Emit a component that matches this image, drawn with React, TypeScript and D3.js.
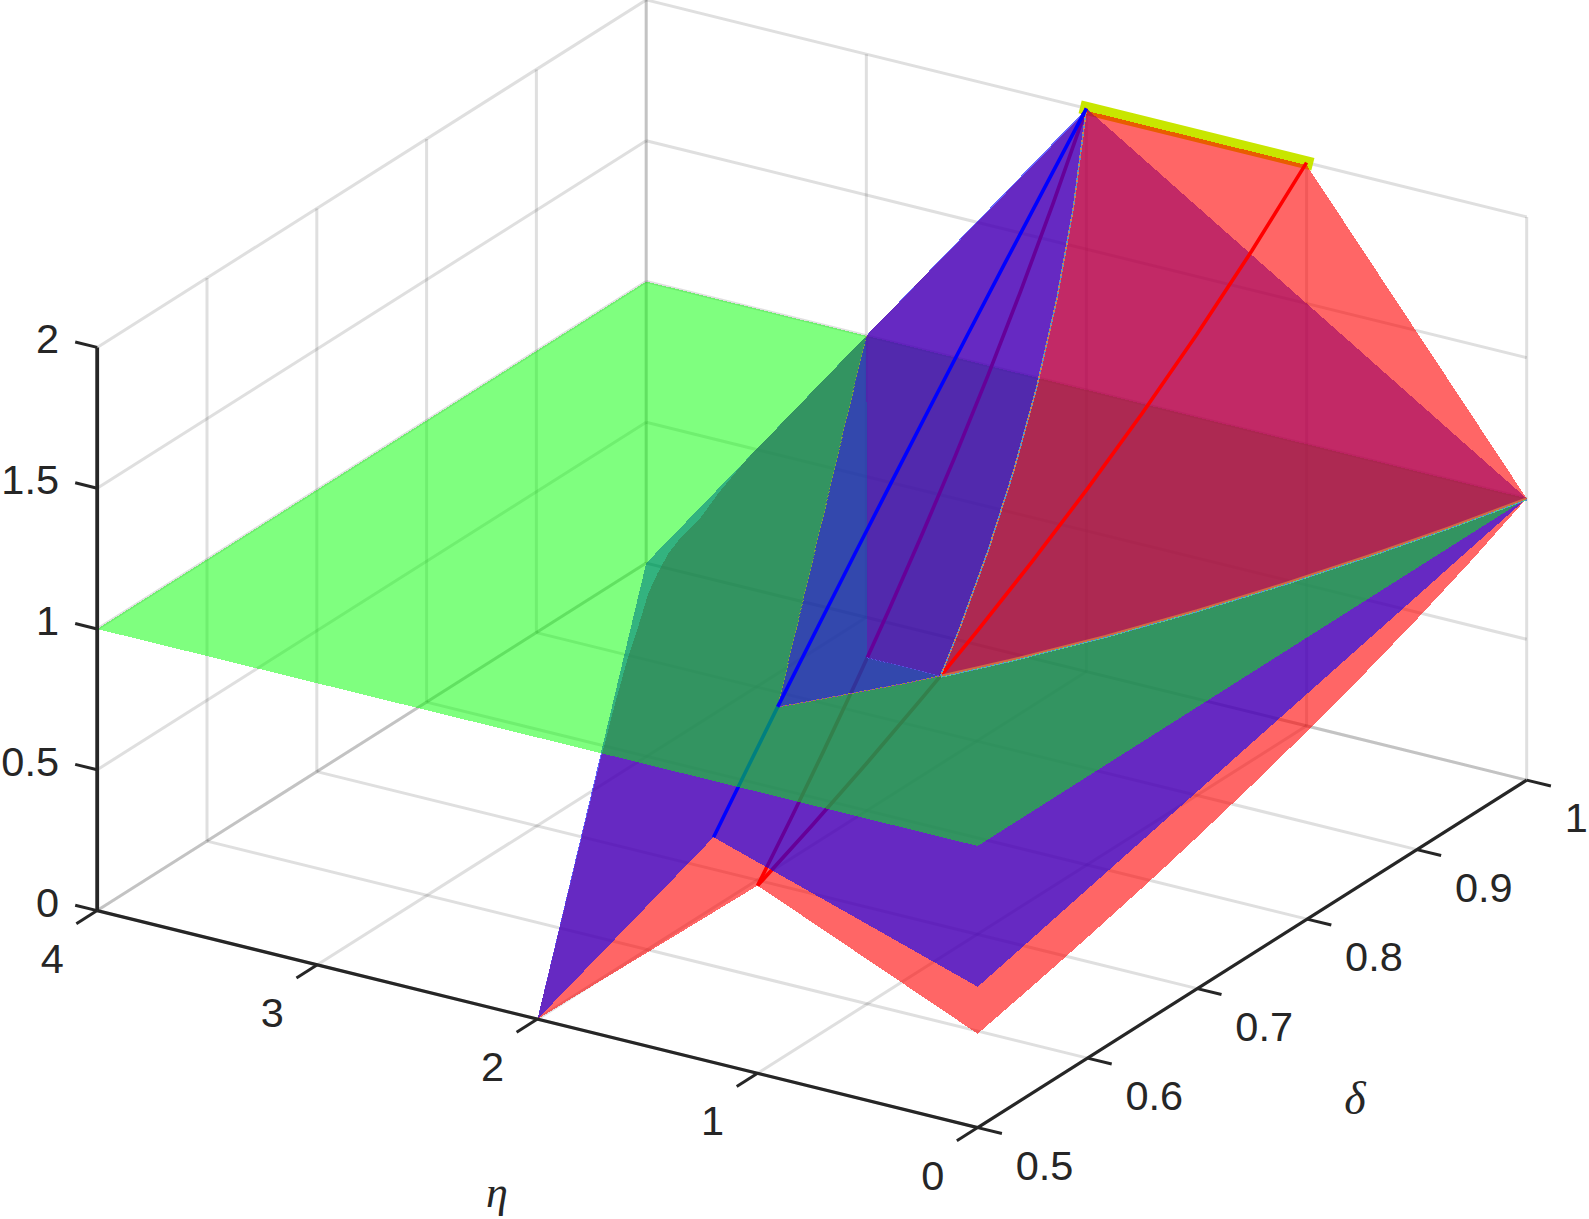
import React from "react";
import * as d3 from "d3";

const etaTicks = [0, 1, 2, 3, 4];
const deltaTicks = [0.5, 0.6, 0.7, 0.8, 0.9, 1];
const deltaTickLabels = ["0.5", "0.6", "0.7", "0.8", "0.9", "1"];
const zTicks = [0, 0.5, 1, 1.5, 2];
const zTickLabels = ["0", "0.5", "1", "1.5", "2"];

// delta samples and values read along the surface ridges
const ridgeDelta = [0.5, 0.55, 0.6, 0.65, 0.6667, 0.7, 0.75, 0.8, 0.85, 0.9, 0.95, 1];
const ridgeZ = [0.6667, 0.7586, 0.8571, 0.963, 1, 1.0769, 1.2, 1.3333, 1.4783, 1.6364, 1.8095, 2];
const redFrontZ = [0.3333, 0.3793, 0.4286, 0.4815, 0.5, 0.5385, 0.6, 0.6667, 0.7391, 0.8182, 0.9048, 1];

// where red and blue cross the z = 1 plane (eta, delta)
const seamEta = [0, 0.1053, 0.2222, 0.3529, 0.5, 0.6667, 0.8571, 1, 1.0769, 1.3333, 1.3727];
const seamDelta = [1, 0.95, 0.9, 0.85, 0.8, 0.75, 0.7, 0.6667, 0.65, 0.6, 0.593];

// blue ridge
const blueDelta = [0.5, 0.55, 0.593, 0.65, 0.7, 0.75, 0.8, 0.85, 0.9, 0.95, 1];
const blueEta = [1.2, 1.2941, 1.3727, 1.4717, 1.5556, 1.6364, 1.7143, 1.7895, 1.8621, 1.9322, 2];
const blueZ = [0.8, 0.9059, 1, 1.1283, 1.2444, 1.3636, 1.4857, 1.6105, 1.7379, 1.8678, 2];

// left limit of the red sheet, as seen on the z = 1 plane
const redEdgeEta = [2.75, 2.672, 2.602, 2.565, 2.522, 2.455, 2.382, 2.269, 2.105, 1.923, 1.75, 1.699];
const redEdgeDelta = [0.84, 0.8, 0.7693, 0.7435, 0.724, 0.7005, 0.6776, 0.6475, 0.6028, 0.5553, 0.5114, 0.498];

type P = [number, number, number];

const etaX = d3.scaleLinear().domain([0, 4]).range([0, -880.5]);
const etaY = d3.scaleLinear().domain([0, 4]).range([0, -217]);
const deltaX = d3.scaleLinear().domain([0.5, 1]).range([0, 549]);
const deltaY = d3.scaleLinear().domain([0.5, 1]).range([0, -347.5]);
const zY = d3.scaleLinear().domain([0, 2]).range([0, -563.2]);
const X0 = 977.7;
const Y0 = 1127.6;

const px = (p: P) => X0 + etaX(p[0]) + deltaX(p[1]);
const py = (p: P) => Y0 + etaY(p[0]) + deltaY(p[1]) + zY(p[2]);
const lineGen = d3.line<P>().x(px).y(py);
const open = (pts: P[]) => lineGen(pts) as string;
const closed = (pts: P[]) => open(pts) + "Z";

const ridgeLow = ridgeDelta.map((d, i) => i).filter((i) => ridgeDelta[i] <= 0.6667);
const ridgeHigh = ridgeDelta.map((d, i) => i).filter((i) => ridgeDelta[i] >= 0.6667);

// curves as 3D points
const redFront: P[] = ridgeDelta.map((d, i) => [0, d, redFrontZ[i]]);
const seam: P[] = seamEta.map((e, i) => [e, seamDelta[i], 1]);
const seamToOne = seam.filter((p) => p[1] >= 0.6667); // delta 1 -> 2/3
const seamPast = seam.filter((p) => p[1] <= 0.6667); // 2/3 -> 0.593
const crossing: P[] = ridgeHigh.map((i) => [ridgeZ[i], ridgeDelta[i], ridgeZ[i]]);
const redEdge: P[] = redEdgeEta.map((e, i) => [e, redEdgeDelta[i], 1]);

const redLow: P[] = [
  [2, 0.5, 0],
  [1, 0.5, 0.6667],
  ...redFront,
  ...seamToOne,
  [1.3333, 0.6667, 1],
  [3, 1, 1],
  ...redEdge,
];
const blueLow: P[] = [
  [2, 0.5, 0],
  [1.2, 0.5, 0.8],
  [0, 0.5, 0.5],
  ...seam,
  [3, 1, 1],
  [4, 1, 0],
];
const greenPlane: P[] = [
  [4, 0.5, 1],
  [0, 0.5, 1],
  [0, 1, 1],
  [4, 1, 1],
];
const blueUnderRed: P[] = [[0, 1, 1], [2, 1, 2], ...[...crossing].reverse(), ...[...seamToOne].reverse()];
const blueOverRed: P[] = [[2, 1, 2], [3, 1, 1], [1.3727, 0.593, 1], ...[...seamPast].reverse(), ...crossing];
const redHigh: P[] = [...seamToOne.slice().reverse(), [1, 1, 1.9915], [2, 1, 1.9915], [3, 1, 1], [1.3333, 0.6667, 1]];

const ridgeOne = (idx: number[]): P[] => idx.map((i) => [1, ridgeDelta[i], ridgeZ[i]]);
const ridgeTwo = (idx: number[]): P[] => idx.map((i) => [2 * ridgeDelta[i], ridgeDelta[i], ridgeZ[i]]);
const blueRidge: P[] = blueDelta.map((d, i) => [blueEta[i], d, blueZ[i]]);
const blueRidgeLow = blueRidge.filter((p) => p[2] <= 1);
const blueRidgeHigh = blueRidge.filter((p) => p[2] >= 1);
const topLine: P[] = [[2, 1, 2], [1, 1, 2]];
const blueGreenEdge: P[] = [[3, 1, 1], [1.3727, 0.593, 1]];
const plateauEdge: P[] = [[1.3333, 0.6667, 1], [1, 0.6667, 1]];

const INK = "#262626";
const font = "'Liberation Sans', Arial, sans-serif";

const Poly = ({ pts, color, a }: { pts: P[]; color: string; a: number }) => (
  <path d={closed(pts)} fill={color} fillOpacity={a} stroke="none" shapeRendering="crispEdges" />
);
const Stroke = ({ pts, color, w }: { pts: P[]; color: string; w: number }) => (
  <path d={open(pts)} fill="none" stroke={color} strokeWidth={w} strokeLinejoin="round" />
);
const Dots = ({ pts, color, w, offset = 0, shift = 0 }: { pts: P[]; color: string; w: number; offset?: number; shift?: number }) => (
  <path
    d={open(pts)}
    fill="none"
    stroke={color}
    strokeWidth={w}
    strokeDasharray="2 2"
    strokeDashoffset={offset}
    transform={`translate(0,${shift})`}
    shapeRendering="crispEdges"
  />
);

export default function App() {
  const grid: P[][] = [];
  // walls and floor
  zTicks.forEach((z) => {
    grid.push([[4, 0.5, z], [4, 1, z]]);
    grid.push([[4, 1, z], [0, 1, z]]);
  });
  deltaTicks.forEach((d) => {
    grid.push([[4, d, 0], [4, d, 2]]);
    grid.push([[4, d, 0], [0, d, 0]]);
  });
  etaTicks.forEach((e) => {
    grid.push([[e, 1, 0], [e, 1, 2]]);
    grid.push([[e, 0.5, 0], [e, 1, 0]]);
  });
  const ticks: P[][] = [];
  zTicks.forEach((z) => ticks.push([[4, 0.5, z], [4.1, 0.5, z]]));
  etaTicks.forEach((e) => ticks.push([[e, 0.5, 0], [e, 0.481, 0]]));
  deltaTicks.forEach((d) => ticks.push([[0, d, 0], [-0.11, d, 0]]));

  return (
    <svg
      width={1589}
      height={1219}
      viewBox="0 0 1589 1219"
      style={{ position: "absolute", left: 0, top: 0, background: "#fff" }}
    >
      <g>
        {grid.map((g, i) => (
          <path key={i} d={open(g)} fill="none" stroke={INK} strokeOpacity={0.15} strokeWidth={3} />
        ))}
      </g>

      {/* parts below the z = 1 plane */}
      <Poly pts={redLow} color="#ff0000" a={0.6} />
      <Stroke pts={ridgeOne(ridgeLow)} color="#ff0000" w={3.6} />
      <Stroke pts={ridgeTwo(ridgeLow)} color="#ff0000" w={3.6} />
      <Poly pts={blueLow} color="#0000ff" a={0.6} />
      <Stroke pts={blueRidgeLow} color="#0000ff" w={3.6} />

      <Poly pts={greenPlane} color="#00ff00" a={0.5} />

      {/* parts above the z = 1 plane */}
      <path d={open(topLine)} fill="none" stroke="#c8e600" strokeWidth={13} strokeLinecap="square" />
      <Poly pts={blueUnderRed} color="#0000ff" a={0.6} />
      <Poly pts={redHigh} color="#ff0000" a={0.6} />
      <Stroke pts={ridgeOne(ridgeHigh)} color="#ff0000" w={3.6} />
      <Stroke pts={ridgeTwo(ridgeHigh)} color="#ff0000" w={3.6} />
      <Poly pts={blueOverRed} color="#0000ff" a={0.6} />

      {/* thin seams along the intersections */}
      <Stroke pts={seamToOne} color="#cf6a45" w={2.4} />
      <Dots pts={seamToOne} color="#4f8fd0" w={1.2} shift={1.4} />
      <Dots pts={seamToOne} color="#5fd080" w={1.2} offset={2} shift={1.4} />
      <Dots pts={crossing} color="#4f8fd0" w={1.6} />
      <Dots pts={crossing} color="#d0804f" w={1.6} offset={2} />
      <Dots pts={seamPast} color="#a09a30" w={1} />
      <Dots pts={seamPast} color="#8a3fc8" w={1} offset={2} />
      <Dots pts={blueGreenEdge} color="#7fa040" w={1} />
      <Dots pts={plateauEdge} color="#5a50e0" w={1} />

      <Stroke pts={blueRidgeHigh} color="#0000ff" w={3.6} />

      {/* axes */}
      <path d={open([[4, 0.5, 0], [4, 0.5, 2]])} stroke={INK} strokeWidth={3.8} fill="none" />
      <path d={open([[4, 0.5, 0], [0, 0.5, 0]])} stroke={INK} strokeWidth={3.2} fill="none" />
      <path d={open([[0, 0.5, 0], [0, 1, 0]])} stroke={INK} strokeWidth={3.2} fill="none" />
      {ticks.map((t, i) => (
        <path key={i} d={open(t)} stroke={INK} strokeWidth={3} fill="none" />
      ))}

      <g fill={INK} fontFamily={font} fontSize={41.5}>
        {zTicks.map((z, i) => (
          <text key={i} x={59} y={py([4, 0.5, z]) + 6} textAnchor="end">
            {zTickLabels[i]}
          </text>
        ))}
        {etaTicks.map((e) => (
          <text key={e} x={px([e, 0.5, 0]) - 45} y={py([e, 0.5, 0]) + 62} textAnchor="middle">
            {e}
          </text>
        ))}
        {deltaTicks.map((d, i) => (
          <text key={i} x={px([0, d, 0]) + 38} y={py([0, d, 0]) + 52} textAnchor="start">
            {deltaTickLabels[i]}
          </text>
        ))}
      </g>
      <text x={497} y={1207} fontFamily="'Liberation Serif', serif" fontStyle="italic" fontSize={44} textAnchor="middle" fill={INK}>
        η
      </text>
      <text x={1355} y={1114} fontFamily="'Liberation Serif', serif" fontStyle="italic" fontSize={46} textAnchor="middle" fill={INK}>
        δ
      </text>
    </svg>
  );
}
